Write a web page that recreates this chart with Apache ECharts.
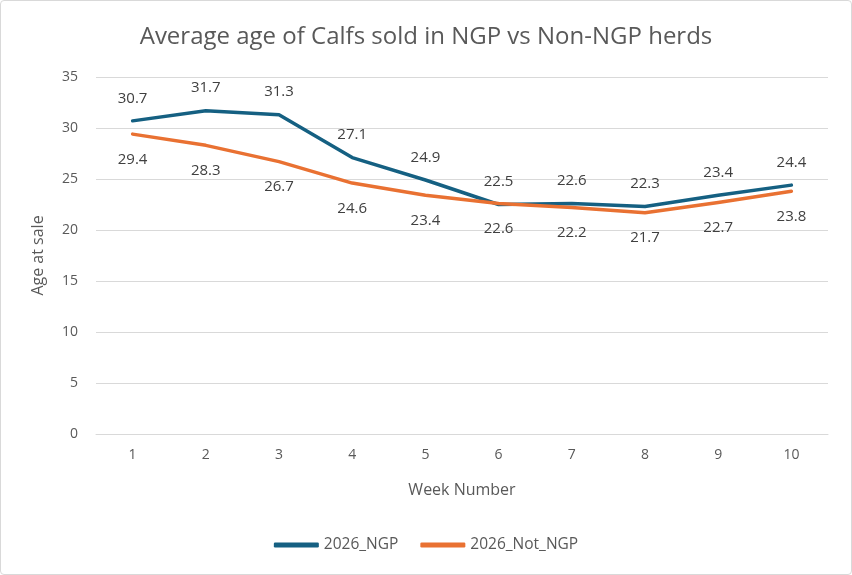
<!DOCTYPE html>
<html><head><meta charset="utf-8">
<script src="https://cdn.jsdelivr.net/npm/echarts@6/dist/echarts.min.js"></script>
<style>
html,body{margin:0;padding:0;background:#fff;}
#c{width:850px;height:573px;border:1px solid #d9d9d9;border-radius:4px;}
</style></head>
<body><div id="c"></div>
<script>
var weeks = ['1','2','3','4','5','6','7','8','9','10'];
var ngp = [30.7,31.7,31.3,27.1,24.9,22.5,22.6,22.3,23.4,24.4];
var notNgp = [29.4,28.3,26.7,24.6,23.4,22.6,22.2,21.7,22.7,23.8];
var chart = echarts.init(document.getElementById('c'));
var font = 'Aptos, "Open Sans", Lato, sans-serif';
chart.setOption({
  animation:false,
  title:{text:'Average age of Calfs sold in NGP vs Non-NGP herds',left:'center',top:19,
    textStyle:{fontFamily:font,fontSize:24,fontWeight:'normal',color:'#595959'}},
  grid:{left:95,right:23,top:76,bottom:140},
  legend:{bottom:16,left:'center',itemWidth:45,itemHeight:5,itemGap:22,
    icon:'roundRect',textStyle:{fontFamily:font,fontSize:15.5,color:'#595959'},
    data:['2026_NGP','2026_Not_NGP']},
  xAxis:{type:'category',data:weeks,name:'Week Number',nameLocation:'middle',nameGap:48,
    nameTextStyle:{fontFamily:font,fontSize:16,color:'#595959'},
    axisLine:{lineStyle:{color:'#d9d9d9'}},axisTick:{show:false},
    axisLabel:{fontFamily:font,fontSize:14,color:'#595959',margin:14}},
  yAxis:{type:'value',min:0,max:35,interval:5,name:'Age at sale',nameLocation:'middle',nameGap:50,
    nameTextStyle:{fontFamily:font,fontSize:16,color:'#595959'},
    axisLabel:{fontFamily:font,fontSize:14,color:'#595959',margin:18},
    splitLine:{lineStyle:{color:'#d9d9d9'}},axisLine:{show:false}},
  series:[
    {name:'2026_NGP',type:'line',data:ngp,symbol:'circle',symbolSize:0.1,showSymbol:true,
      lineStyle:{width:3.5,color:'#156082',cap:'round',join:'round'},itemStyle:{color:'#156082'},
      label:{show:true,position:'top',distance:15,fontFamily:font,fontSize:15,color:'#404040'}},
    {name:'2026_Not_NGP',type:'line',data:notNgp,symbol:'circle',symbolSize:0.1,showSymbol:true,
      lineStyle:{width:3.5,color:'#E97132',cap:'round',join:'round'},itemStyle:{color:'#E97132'},
      label:{show:true,position:'bottom',distance:18,fontFamily:font,fontSize:15,color:'#404040'}}
  ]
});
</script></body></html>
